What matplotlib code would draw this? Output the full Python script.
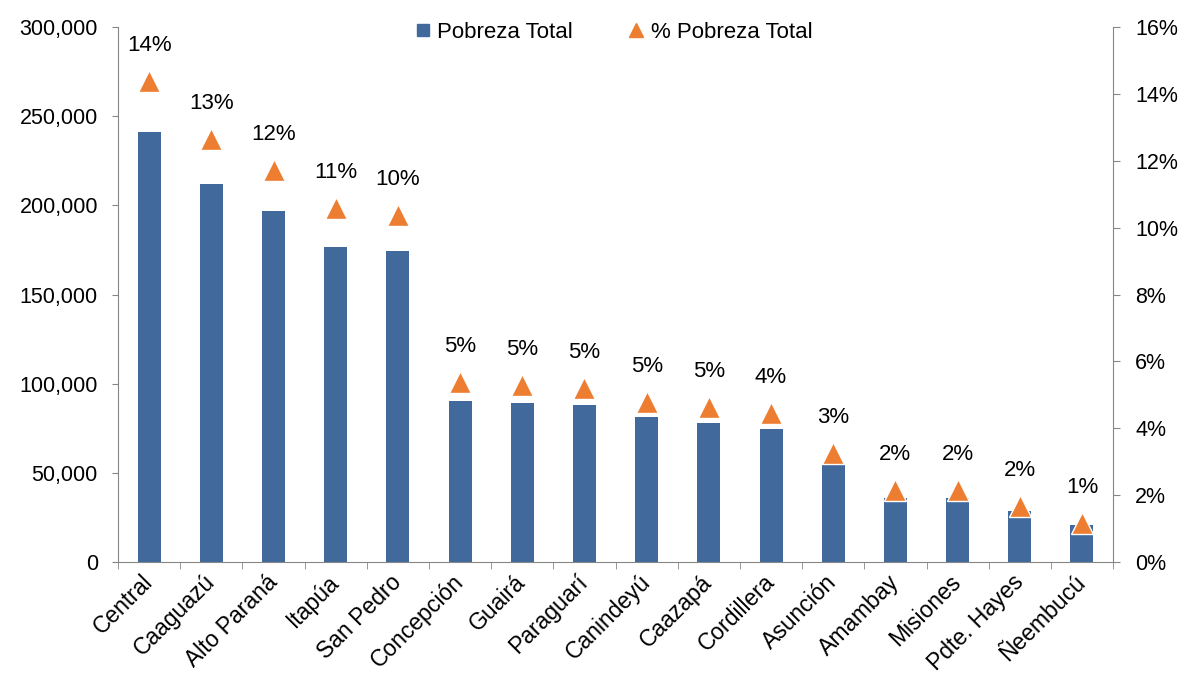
import numpy as np
import matplotlib
matplotlib.use("Agg")
import matplotlib.pyplot as plt
from matplotlib.lines import Line2D
from matplotlib.ticker import FuncFormatter

departamentos = ["Central", "Caaguazú", "Alto Paraná", "Itapúa", "San Pedro",
                 "Concepción", "Guairá", "Paraguarí", "Canindeyú", "Caazapá",
                 "Cordillera", "Asunción", "Amambay", "Misiones", "Pdte. Hayes",
                 "Ñeembucú"]
pobreza_total = [241300, 212000, 197000, 176800, 174400, 90300, 89200, 88000,
                 81300, 78000, 74600, 54400, 35900, 35900, 28600, 20750]
pct_pobreza = [14.38, 12.65, 11.72, 10.59, 10.38, 5.38, 5.29, 5.20, 4.78, 4.64,
               4.46, 3.26, 2.15, 2.15, 1.67, 1.18]
pct_labels = ["14%", "13%", "12%", "11%", "10%", "5%", "5%", "5%", "5%", "5%",
              "4%", "3%", "2%", "2%", "2%", "1%"]

plt.rcParams["font.family"] = ["Liberation Sans", "DejaVu Sans"]
plt.rcParams["font.size"] = 15.5

blue = "#41699b"
orange = "#ed7d31"
gray = "#868686"

fig = plt.figure(figsize=(11.84, 6.8), dpi=100)
ax = fig.add_axes([0.0997, 0.1735, 0.8404, 0.7868])
ax2 = ax.twinx()

x = np.arange(len(departamentos))
ax.bar(x, pobreza_total, width=0.37, color=blue, zorder=2)
ax.set_ylim(0, 300000)
ax.set_xlim(-0.5, len(departamentos) - 0.5)
ax.set_yticks(np.arange(0, 300001, 50000))
ax.yaxis.set_major_formatter(FuncFormatter(lambda v, p: f"{int(v):,}"))

ax2.set_ylim(0, 16)
ax2.set_yticks(np.arange(0, 17, 2))
ax2.yaxis.set_major_formatter(FuncFormatter(lambda v, p: f"{int(v)}%"))
ax2.plot(x, pct_pobreza, linestyle="none", marker="^", markersize=16.5,
         color=orange, markeredgecolor="white", markeredgewidth=1.0, zorder=3)
for xi, yi, lab in zip(x, pct_pobreza, pct_labels):
    ax2.annotate(lab, (xi, yi), xytext=(0, 25.5), textcoords="offset points",
                 ha="center", va="center", fontsize=16)

ax.set_xticks(x)
ax.set_xticklabels(departamentos, rotation=45, ha="right", va="center",
                   rotation_mode="anchor", fontsize=16.5)
ax.set_xticks(np.arange(-0.5, len(departamentos), 1), minor=True)
ax.tick_params(axis="x", which="major", length=0, pad=12)
ax.tick_params(axis="x", which="minor", length=5, color=gray, direction="out")
ax.tick_params(axis="y", length=4.5, color=gray, direction="out", pad=10)
ax2.tick_params(axis="y", length=5, color=gray, direction="out", pad=11)

for a in (ax, ax2):
    a.spines["top"].set_visible(False)
    for s in ("left", "right", "bottom"):
        a.spines[s].set_color(gray)
ax.spines["right"].set_visible(False)
ax2.spines["left"].set_visible(False)
ax2.spines["bottom"].set_visible(False)

handles = [Line2D([], [], linestyle="none", marker="s", markersize=9, color=blue),
           Line2D([], [], linestyle="none", marker="^", markersize=10, color=orange)]
fig.legend(handles, ["Pobreza Total", "% Pobreza Total"], loc="center left",
           bbox_to_anchor=(0.3505, 0.952), ncol=2, frameon=False, fontsize=16,
           handlelength=0.7, handletextpad=0.3, columnspacing=2.5,
           borderpad=0, borderaxespad=0)

fig.savefig("out.png", dpi=100)
